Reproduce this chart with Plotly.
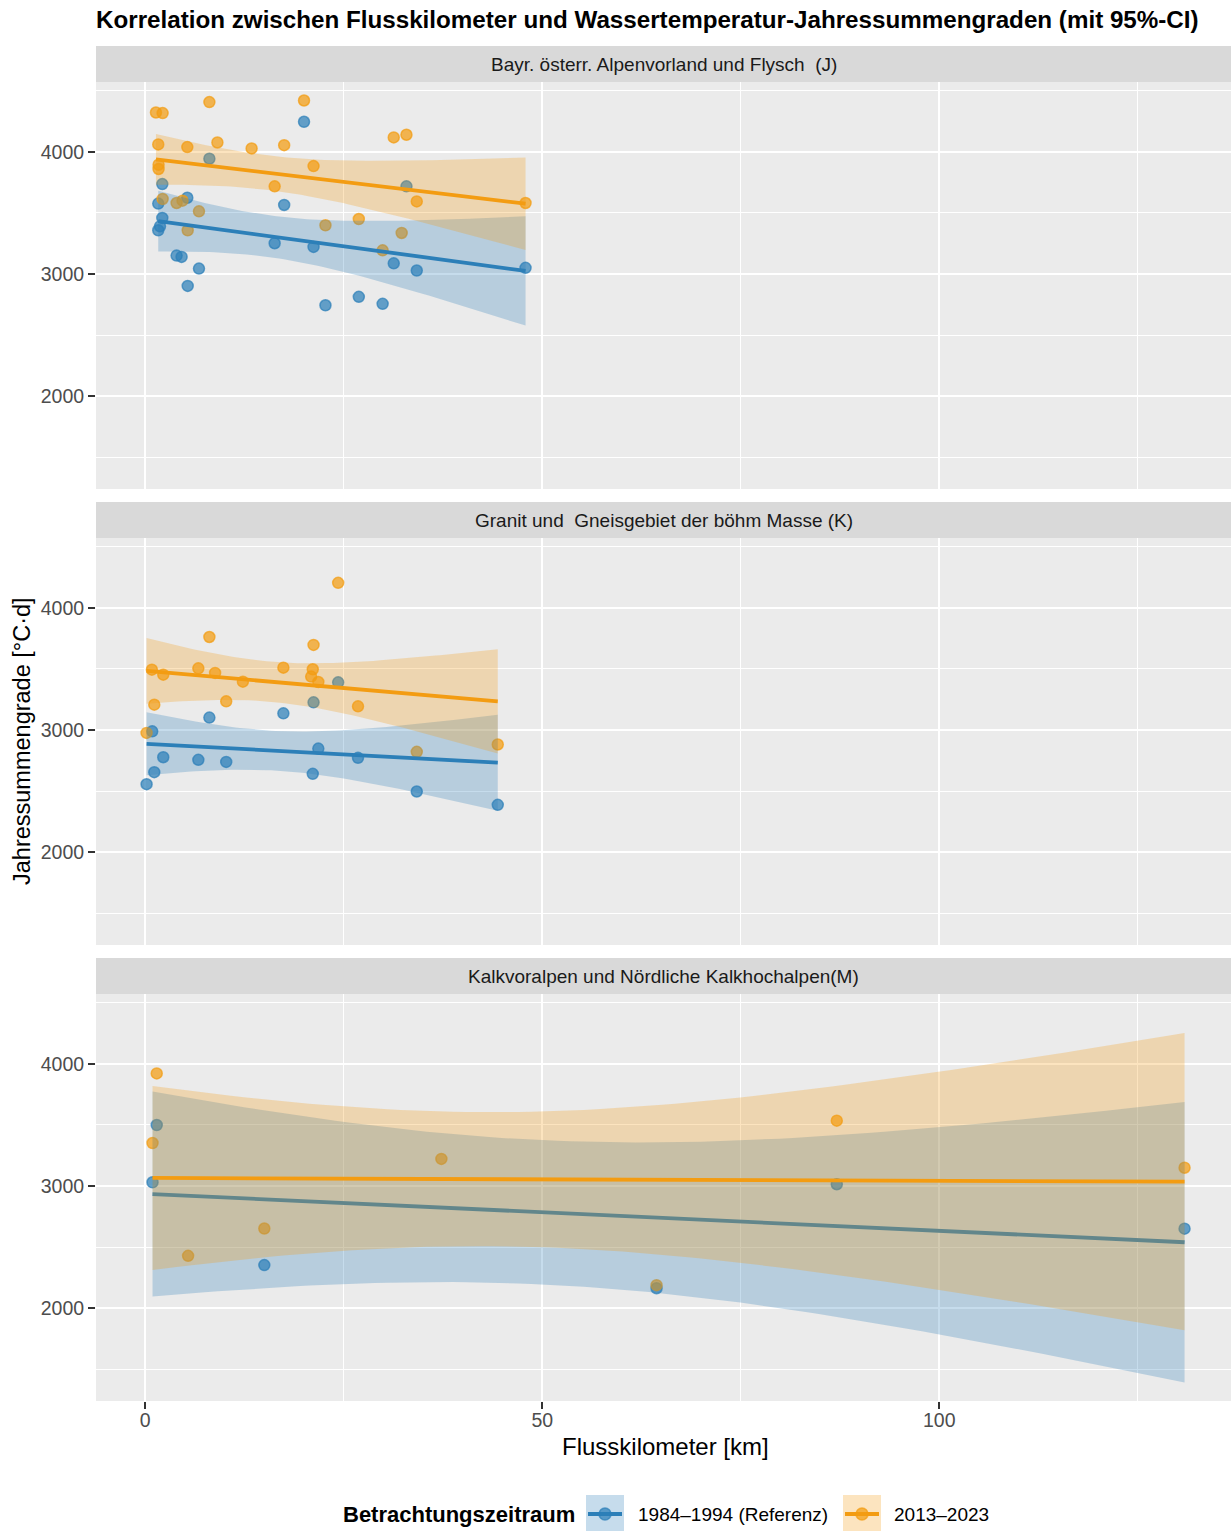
import math
import numpy as np
import plotly.graph_objects as go

# ---------------------------------------------------------------
# Annual water-temperature degree-day sums along the river course
# ---------------------------------------------------------------
facet_titles = [
    "Bayr. österr. Alpenvorland und Flysch  (J)",
    "Granit und  Gneisgebiet der böhm Masse (K)",
    "Kalkvoralpen und Nördliche Kalkhochalpen(M)",
]
period_labels = ["1984–1994 (Referenz)", "2013–2023"]
period_colors = ["#2C7FB8", "#F39C12"]

# Region J
J_ref_km = [1.64, 1.64, 1.86, 2.15, 2.15, 3.95, 4.58, 5.3, 5.35, 6.77, 8.08,
            16.3, 17.5, 20.0, 21.2, 22.7, 26.9, 29.9, 31.3, 32.9, 34.2, 47.9]
J_ref_val = [3576, 3358, 3390, 3736, 3459, 3151, 3140, 3624, 2903, 3045, 3943,
             3252, 3565, 4245, 3222, 2745, 2814, 2757, 3088, 3717, 3029, 3051]
J_new_km = [1.35, 1.64, 1.68, 1.68, 2.19, 2.19, 3.95, 4.7, 5.3, 5.35, 6.77, 8.08,
            9.09, 13.4, 16.3, 17.5, 20.0, 21.2, 22.7, 26.9, 29.9, 31.3, 32.3,
            32.9, 34.2, 47.9]
J_new_val = [4321, 4060, 3894, 3859, 4316, 3614, 3581, 3600, 4038, 3358, 3513, 4406,
             4076, 4027, 3717, 4054, 4419, 3883, 3399, 3450, 3194, 4117, 3336,
             4139, 3594, 3581]

# Region K
K_ref_km = [0.17, 0.88, 1.14, 2.27, 6.69, 8.08, 10.2, 17.4, 21.1, 21.2, 21.8,
            24.3, 26.8, 34.2, 44.4]
K_ref_val = [2558, 2990, 2656, 2778, 2757, 3102, 2740, 3137, 2642, 3227, 2849,
             3390, 2773, 2498, 2389]
K_new_km = [0.17, 0.84, 1.14, 2.27, 6.69, 8.08, 8.8, 10.2, 12.3, 17.4, 20.9,
            21.1, 21.2, 21.8, 24.3, 26.8, 34.2, 44.4]
K_new_val = [2977, 3494, 3208, 3453, 3505, 3761, 3467, 3235, 3396, 3510, 3437,
             3497, 3696, 3393, 4204, 3194, 2822, 2882]

# Region M
M_ref_km = [0.92, 1.45, 15.0, 64.4, 87.1, 130.9]
M_ref_val = [3031, 3499, 2354, 2165, 3015, 2652]
M_new_km = [0.92, 1.45, 5.4, 15.0, 37.3, 64.4, 87.1, 130.9]
M_new_val = [3352, 3921, 2430, 2653, 3222, 2190, 3535, 3150]

x_ticks = [0, 50, 100]
x_minor = [25, 75, 125]
y_ticks = [2000, 3000, 4000]
y_minor = [1500, 2500, 3500, 4500]

# visible window of the shared km axis
x_range = [-6.2, 136.75]

panels = [
    [(J_ref_km, J_ref_val), (J_new_km, J_new_val)],
    [(K_ref_km, K_ref_val), (K_new_km, K_new_val)],
    [(M_ref_km, M_ref_val), (M_new_km, M_new_val)],
]


# ---------------- linear fit with 95% confidence band ----------------
def t_crit(df, level=0.95):
    c = math.gamma((df + 1) / 2) / (math.sqrt(df * math.pi) * math.gamma(df / 2))

    def half_cdf(t):
        xs = np.linspace(0.0, t, 4001)
        return np.trapezoid(c * (1 + xs ** 2 / df) ** (-(df + 1) / 2), xs)

    lo, hi = 0.0, 30.0
    for _ in range(80):
        mid = 0.5 * (lo + hi)
        if half_cdf(mid) < level / 2:
            lo = mid
        else:
            hi = mid
    return 0.5 * (lo + hi)


def lm_band(x, y, n=80):
    x = np.asarray(x, float)
    y = np.asarray(y, float)
    grid = np.linspace(x.min(), x.max(), n)
    xm, ym = x.mean(), y.mean()
    sxx = ((x - xm) ** 2).sum()
    slope = ((x - xm) * (y - ym)).sum() / sxx
    icpt = ym - slope * xm
    resid = y - (icpt + slope * x)
    dof = len(x) - 2
    s = math.sqrt((resid ** 2).sum() / dof)
    fit = icpt + slope * grid
    se = s * np.sqrt(1 / len(x) + (grid - xm) ** 2 / sxx)
    tq = t_crit(dof)
    return grid, fit, fit - tq * se, fit + tq * se


def rgba(hex_color, a):
    h = hex_color.lstrip("#")
    r, g, b = int(h[0:2], 16), int(h[2:4], 16), int(h[4:6], 16)
    return f"rgba({r},{g},{b},{a})"


# ---------------- page geometry (pixels) ----------------
W, H = 1231, 1531
ML, MR, MT, MB = 96, 0, 46, 130
PW, PH = W - ML - MR, H - MT - MB


def fx(px):
    return (px - ML) / PW


def fy(py):
    return (H - MB - py) / PH


panel_px = [(82, 489), (538, 945), (994, 1401)]
strip_px = [(46, 82), (502, 538), (958, 994)]

FONT = "Liberation Sans, Arial, sans-serif"

fig = go.Figure()

fits = []
for r, groups in enumerate(panels):
    fits.append([lm_band(k, v) for k, v in groups])

all_y = [v for g in panels for kv in g for v in kv[1]]
for fp in fits:
    for grid, fit, lo, hi in fp:
        all_y += list(lo) + list(hi)
yr0, yr1 = min(all_y), max(all_y)
y_range = [yr0 - 0.05 * (yr1 - yr0), yr1 + 0.05 * (yr1 - yr0)]

for r, groups in enumerate(panels):
    xa = "x" if r == 0 else f"x{r + 1}"
    ya = "y" if r == 0 else f"y{r + 1}"
    # points of both periods first
    for gi, (km, val) in enumerate(groups):
        col = period_colors[gi]
        fig.add_trace(go.Scatter(
            x=km, y=val, mode="markers", xaxis=xa, yaxis=ya,
            marker=dict(size=11, color=rgba(col, 0.72),
                        line=dict(color=rgba(col, 0.72), width=1.5)),
            showlegend=False, hoverinfo="skip"))
    # then ribbon + fit line per period
    for gi, (grid, fit, lo, hi) in enumerate(fits[r]):
        col = period_colors[gi]
        fig.add_trace(go.Scatter(
            x=list(grid) + list(grid[::-1]), y=list(hi) + list(lo[::-1]),
            mode="lines", fill="toself", fillcolor=rgba(col, 0.27),
            line=dict(width=0), xaxis=xa, yaxis=ya,
            showlegend=False, hoverinfo="skip"))
        fig.add_trace(go.Scatter(
            x=grid, y=fit, mode="lines", xaxis=xa, yaxis=ya,
            line=dict(color=col, width=3.8),
            showlegend=False, hoverinfo="skip"))

axis_common = dict(
    showgrid=True, gridcolor="white", gridwidth=2, zeroline=False,
    showline=False,
    tickfont=dict(family=FONT, size=19.5, color="#4d4d4d"),
    tickcolor="#333333", tickwidth=2, ticklen=7,
)

layout = dict(
    width=W, height=H, margin=dict(l=ML, r=MR, t=MT, b=MB, pad=0),
    paper_bgcolor="white", plot_bgcolor="#ebebeb",
    showlegend=False, font=dict(family=FONT),
)

for r in range(3):
    sx = "" if r == 0 else str(r + 1)
    top, bot = panel_px[r]
    layout["xaxis" + sx] = dict(
        axis_common, domain=[0, 1], anchor="y" + sx, range=x_range,
        tickvals=x_ticks, ticktext=[str(t) for t in x_ticks],
        minor=dict(tickvals=x_minor, showgrid=True, gridcolor="white", gridwidth=1, ticklen=0),
        ticks="outside" if r == 2 else "", showticklabels=(r == 2),
        ticklabelstandoff=-5,
        **({} if r == 0 else {"matches": "x"}))
    layout["yaxis" + sx] = dict(
        axis_common, domain=[fy(bot), fy(top)], anchor="x" + sx, range=y_range,
        tickvals=y_ticks, ticktext=[str(t) for t in y_ticks],
        minor=dict(tickvals=y_minor, showgrid=True, gridcolor="white", gridwidth=1, ticklen=0),
        ticks="outside", ticklabelstandoff=0)

fig.update_layout(**layout)

shapes = []
annotations = []

# facet strips
for r in range(3):
    t, b = strip_px[r]
    shapes.append(dict(type="rect", xref="paper", yref="paper",
                       x0=0, x1=1, y0=fy(b), y1=fy(t),
                       fillcolor="#d9d9d9", line=dict(width=0)))
    annotations.append(dict(xref="paper", yref="paper", x=0.5, y=fy((t + b) / 2),
                            text=facet_titles[r], showarrow=False,
                            xanchor="center", yanchor="middle",
                            font=dict(family=FONT, size=19, color="#1a1a1a")))

# title and axis titles
annotations.append(dict(
    xref="paper", yref="paper", x=0, y=fy(19), xanchor="left", yanchor="middle",
    xshift=-2,
    text="<b>Korrelation zwischen Flusskilometer und Wassertemperatur-Jahressummengraden (mit 95%-CI)</b>",
    showarrow=False, font=dict(family=FONT, size=24.2, color="black")))
annotations.append(dict(
    xref="paper", yref="paper", x=fx(665), y=fy(1446), xanchor="center", yanchor="middle",
    text="Flusskilometer [km]", showarrow=False,
    font=dict(family=FONT, size=24, color="black")))
annotations.append(dict(
    xref="paper", yref="paper", x=fx(22), y=fy(741), xanchor="center", yanchor="middle",
    text="Jahressummengrade [°C·d]", textangle=-90, showarrow=False,
    font=dict(family=FONT, size=23.5, color="black")))

# legend
LEG_Y = 1514
annotations.append(dict(
    xref="paper", yref="paper", x=fx(343), y=fy(LEG_Y), xanchor="left", yanchor="middle",
    xshift=-2,
    text="<b>Betrachtungszeitraum</b>", showarrow=False,
    font=dict(family=FONT, size=22, color="black")))
key_x = [586, 843]
text_x = [637, 893]
for gi in range(2):
    col = period_colors[gi]
    k0 = key_x[gi]
    shapes.append(dict(type="rect", xref="paper", yref="paper",
                       x0=fx(k0), x1=fx(k0 + 38), y0=fy(LEG_Y + 19), y1=fy(LEG_Y - 19),
                       fillcolor=rgba(col, 0.27), line=dict(width=0)))
    shapes.append(dict(type="line", xref="paper", yref="paper",
                       x0=fx(k0 + 2), x1=fx(k0 + 36), y0=fy(LEG_Y), y1=fy(LEG_Y),
                       line=dict(color=col, width=4)))
    shapes.append(dict(type="circle", xref="paper", yref="paper",
                       x0=fx(k0 + 13), x1=fx(k0 + 25), y0=fy(LEG_Y + 6), y1=fy(LEG_Y - 6),
                       fillcolor=rgba(col, 0.72), line=dict(color=rgba(col, 0.72), width=1.5)))
    annotations.append(dict(
        xref="paper", yref="paper", x=fx(text_x[gi]), y=fy(LEG_Y), xanchor="left", yanchor="middle",
        xshift=-1,
        text=period_labels[gi], showarrow=False,
        font=dict(family=FONT, size=19, color="black")))

fig.update_layout(shapes=shapes, annotations=annotations)

fig.write_html("out.html")
